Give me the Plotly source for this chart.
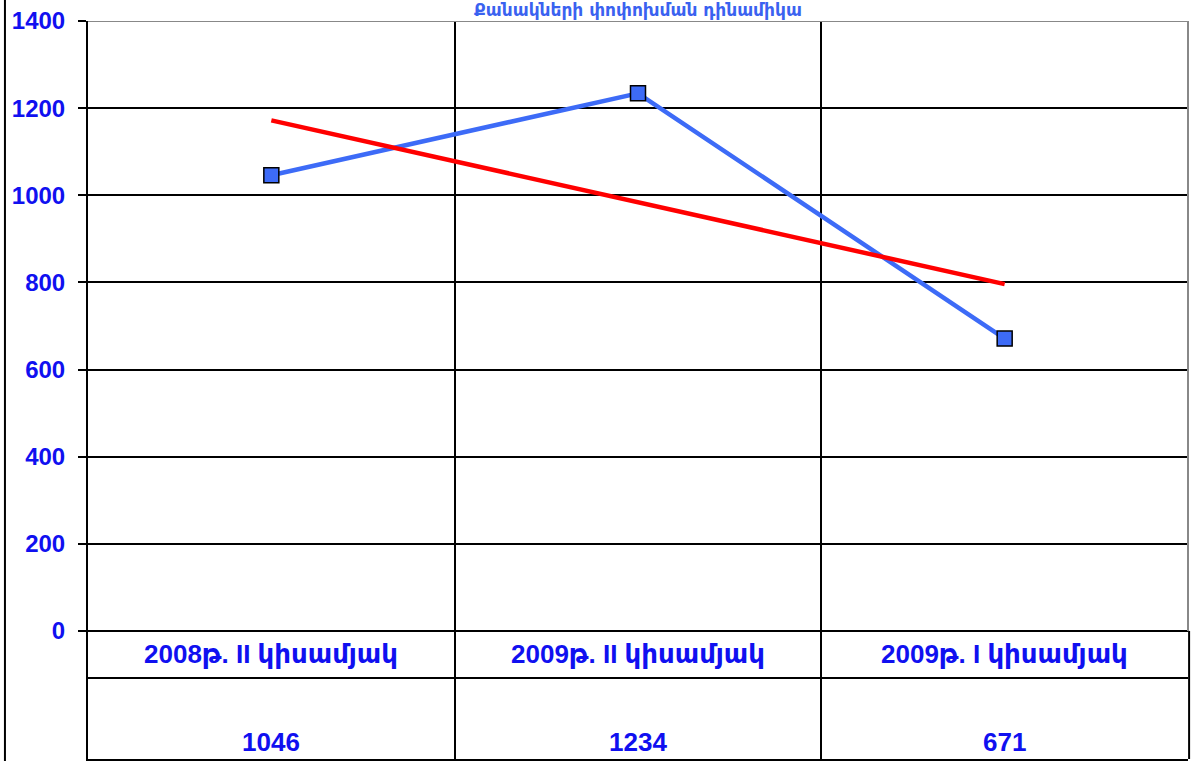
import plotly.graph_objects as go

title_text = "Քանակների փոփոխման դինամիկա"
categories = ["2008թ. II կիսամյակ", "2009թ. II կիսամյակ", "2009թ. I կիսամյակ"]
values = [1046, 1234, 671]
trend_values = [1172, 984, 796]
y_ticks = [0, 200, 400, 600, 800, 1000, 1200, 1400]

FONT = "Arial, 'Liberation Sans', 'DejaVu Sans', sans-serif"
BLUE_TXT = "#1010f0"
x_pos = list(range(len(categories)))

# table rows below zero (in axis units)
ROW_SPLIT = -108
Y_BOTTOM = -294

fig = go.Figure()
fig.add_trace(go.Scatter(
    x=x_pos, y=values, mode="lines+markers",
    line=dict(color="#3d6bf7", width=4.5),
    marker=dict(symbol="square", size=15, color="#3d6bf7",
                line=dict(color="black", width=1.5)),
    showlegend=False, hoverinfo="skip"))
fig.add_trace(go.Scatter(
    x=[x_pos[0], x_pos[-1]], y=[trend_values[0], trend_values[-1]], mode="lines",
    line=dict(color="#ff0000", width=4.5),
    showlegend=False, hoverinfo="skip"))

annotations = []
for xi, (c, v) in enumerate(zip(categories, values)):
    annotations.append(dict(x=xi, y=(0 + ROW_SPLIT) / 2, xref="x", yref="y",
                            text=c, showarrow=False, yanchor="middle",
                            font=dict(family=FONT, size=26, color=BLUE_TXT)))
    annotations.append(dict(x=xi, y=Y_BOTTOM + 1, xref="x", yref="y",
                            text=str(v), showarrow=False, yanchor="bottom",
                            font=dict(family=FONT, size=26, color=BLUE_TXT)))
annotations.append(dict(x=0.5, y=1.0149, xref="paper", yref="paper",
                        text="<b>" + title_text + "</b>", showarrow=False,
                        yanchor="middle",
                        font=dict(family="'DejaVu Sans', Arial, sans-serif", size=17,
                                  color="#3a62f0")))

shapes = [
    dict(type="line", xref="x", yref="y", x0=-0.5, x1=2.5, y0=ROW_SPLIT, y1=ROW_SPLIT,
         line=dict(color="black", width=2)),
    dict(type="line", xref="paper", yref="y", x0=0, x1=1, y0=1400, y1=1400,
         line=dict(color="#888888", width=2)),
    dict(type="line", xref="paper", yref="y", x0=1, x1=1, y0=0, y1=1400,
         line=dict(color="#888888", width=2)),
    dict(type="line", xref="paper", yref="y", x0=1.001, x1=1.001, y0=Y_BOTTOM, y1=0,
         line=dict(color="black", width=2)),
    dict(type="line", xref="paper", yref="paper", x0=-0.0755, x1=-0.0755, y0=-0.1, y1=1.1,
         line=dict(color="black", width=2)),
]

fig.update_layout(
    width=1197, height=761,
    margin=dict(l=88, r=9, t=21, b=2),
    paper_bgcolor="white", plot_bgcolor="white",
    annotations=annotations, shapes=shapes,
    xaxis=dict(range=[-0.5, 2.5], tickvals=[0.5, 1.5], showticklabels=False,
               showgrid=True, gridcolor="black", gridwidth=2, ticks="",
               showline=True, linecolor="black", linewidth=2, zeroline=False,
               fixedrange=True),
    yaxis=dict(range=[Y_BOTTOM, 1400], tickvals=y_ticks,
               ticktext=[str(t) for t in y_ticks],
               showgrid=True, gridcolor="black", gridwidth=1.5,
               ticks="outside", ticklen=8, tickwidth=2, tickcolor="black",
               showline=True, linecolor="black", linewidth=2, zeroline=False,
               ticklabelstandoff=8, automargin=False,
               tickfont=dict(family=FONT, size=24, color=BLUE_TXT, weight="bold"),
               fixedrange=True),
)
for a in fig.layout.annotations:
    a.font.weight = "bold"

fig.write_html("out.html", config={"displayModeBar": False},
               post_script="document.body.style.margin='0';document.body.style.overflow='hidden';")
